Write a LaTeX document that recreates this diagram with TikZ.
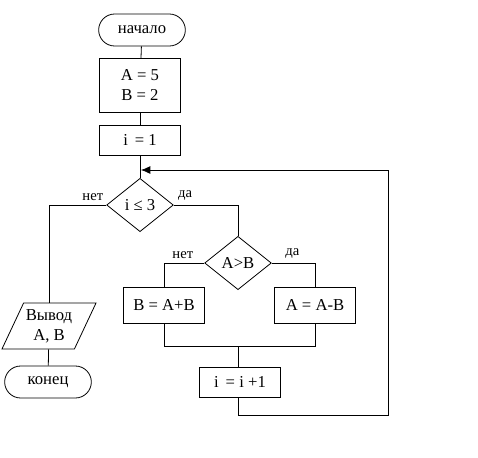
\documentclass[tikz,border=0pt]{standalone}
\usepackage{fontspec}
\setmainfont{Liberation Serif}
\usepackage{tikz}
\usetikzlibrary{arrows.meta, shapes.geometric}

\begin{document}
\begin{tikzpicture}[
    x=0.75pt, y=-0.75pt,
    every path/.style={line width=0.6pt},
    base/.style={draw, font=\fontsize{12.5}{15}\selectfont, inner sep=1pt, align=center},
    term/.style={base, rounded corners=12pt, minimum width=65pt, minimum height=24pt},
    proc/.style={base, rectangle, minimum width=61pt},
    cond/.style={base, diamond, minimum width=50pt, minimum height=40pt, inner sep=0pt},
    io/.style={base, trapezium, trapezium left angle=60, trapezium right angle=120,
      trapezium stretches=true, minimum width=71pt, minimum height=34.5pt},
    lab/.style={font=\fontsize{11}{13}\selectfont, inner sep=1pt}
  ]
  \useasboundingbox (0,0) rectangle (478,457);
  % blocks
  \node[term] (start) at (142,30) {начало};
  \node[proc, minimum height=41pt] (init) at (140,85.5) {A = 5\\B = 2};
  \node[proc, minimum height=22.5pt] (setI) at (140,140) {i \,= 1};
  \node[cond] (c1) at (140,205) {i ≤ 3};
  \node[cond] (c2) at (238,263) {A>B};
  \node[proc, minimum height=27pt] (sumB) at (164,305) {B = A+B};
  \node[proc, minimum height=27pt] (subA) at (315,305) {A = A-B};
  \node[proc, minimum height=22.5pt] (inc) at (240,382) {i \,= i +1};
  \node[io] (out) at (49,326) {Вывод\\A, B};
  \node[term] (stop) at (48,382) {конец};
  % helper points
  \coordinate (mrg) at (238,346);
  \coordinate (loopB) at (388,415);
  \coordinate (join) at (141,170);
  % connectors
  \draw (start) -- (init);
  \draw (init) -- (setI);
  \draw (setI) -- (c1);
  \draw (c1.west) -| (out.north);
  \draw (c1.east) -| (c2.north);
  \draw (c2.west) -| (sumB.north);
  \draw (c2.east) -| (subA.north);
  \draw (sumB.south) |- (mrg);
  \draw (subA.south) |- (mrg);
  \draw (mrg) -- (mrg |- inc.north);
  \draw (out) -- (stop);
  \draw[-{Latex[length=7pt,width=6pt]}] (mrg |- inc.south) |- (loopB) |- (join);
  % labels
  \node[lab, anchor=south east] at ([xshift=-1pt,yshift=2pt]c1.west) {нет};
  \node[lab, anchor=south west] at ([xshift=2pt,yshift=2pt]c1.east) {да};
  \node[lab, anchor=south east] at ([xshift=-7pt,yshift=2pt]c2.west) {нет};
  \node[lab, anchor=south west] at ([xshift=9pt,yshift=2pt]c2.east) {да};
\end{tikzpicture}
\end{document}
